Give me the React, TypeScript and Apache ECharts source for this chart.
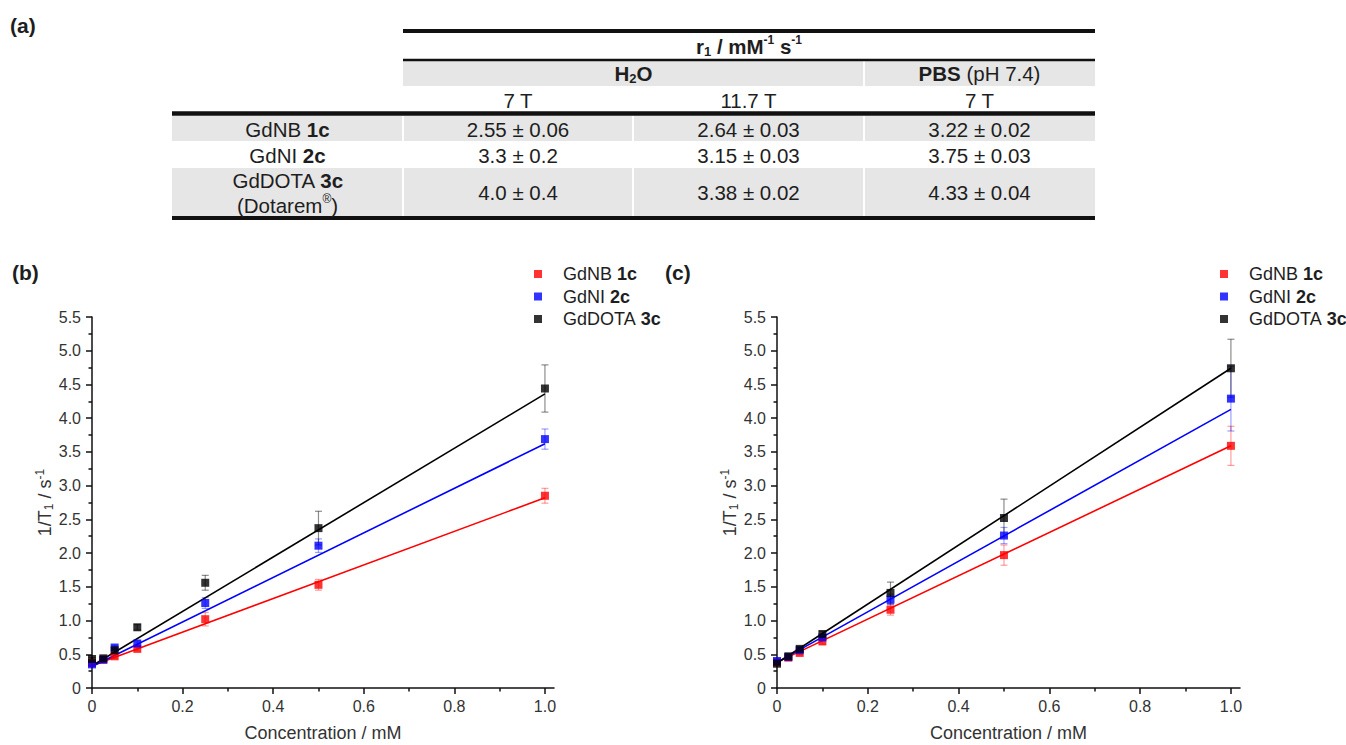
import React, { useEffect, useRef } from "react";
import * as echarts from "echarts";

// ---------- data ----------
const concentrations = [0, 0.025, 0.05, 0.1, 0.25, 0.5, 1.0];
const compoundNames = ["GdNB", "GdNI", "GdDOTA"];
const compoundCodes = ["1c", "2c", "3c"];
const seriesColors = ["#ff0000", "#0000ff", "#000000"];
const errorColors = ["rgba(255,0,0,0.38)", "rgba(0,0,255,0.38)", "rgba(0,0,0,0.45)"];

// panel (b)
const bRed = [0.37, 0.42, 0.47, 0.58, 1.02, 1.53, 2.85];
const bBlue = [0.35, 0.42, 0.6, 0.66, 1.26, 2.11, 3.69];
const bBlack = [0.43, 0.44, 0.56, 0.9, 1.56, 2.37, 4.44];
const bRedErr = [0.02, 0.02, 0.03, 0.03, 0.1, 0.08, 0.11];
const bBlueErr = [0.02, 0.02, 0.03, 0.04, 0.08, 0.1, 0.15];
const bBlackErr = [0.02, 0.02, 0.03, 0.04, 0.11, 0.25, 0.35];
const bFitAtZero = [0.33, 0.32, 0.33];
const bFitAtOne = [2.82, 3.62, 4.36];

// panel (c)
const cRed = [0.38, 0.45, 0.52, 0.69, 1.16, 1.97, 3.59];
const cBlue = [0.4, 0.46, 0.56, 0.75, 1.31, 2.26, 4.29];
const cBlack = [0.36, 0.47, 0.58, 0.8, 1.41, 2.52, 4.74];
const cRedErr = [0.02, 0.02, 0.03, 0.04, 0.08, 0.15, 0.29];
const cBlueErr = [0.02, 0.02, 0.03, 0.04, 0.08, 0.12, 0.48];
const cBlackErr = [0.02, 0.02, 0.03, 0.04, 0.16, 0.28, 0.43];
const cFitAtZero = [0.38, 0.38, 0.37];
const cFitAtOne = [3.59, 4.13, 4.74];

// axis ticks
const xMajorTicks = [0, 0.2, 0.4, 0.6, 0.8, 1.0];
const xMinorTicks = [0.1, 0.3, 0.5, 0.7, 0.9];

// table (a)
const r1Water7T = ["2.55 ± 0.06", "3.3 ± 0.2", "4.0 ± 0.4"];
const r1Water117T = ["2.64 ± 0.03", "3.15 ± 0.03", "3.38 ± 0.02"];
const r1PBS7T = ["3.22 ± 0.02", "3.75 ± 0.03", "4.33 ± 0.04"];
const fieldLabels = ["7 T", "11.7 T", "7 T"];

// ---------- styling ----------
const FONT = 'Arial, "Liberation Sans", Helvetica, sans-serif';
const AXIS = "#111";
const LABEL = "#333";
const TEXT = "#1e1e1e";

const seriesNames = compoundNames.map((n, i) => `${n} ${compoundCodes[i]}`);

function makeAxes(gridIndex: number) {
  const lineStyle = { color: AXIS, width: 1.5 };
  const labelFmt = (v: number) => (v === 0 ? "0" : v.toFixed(1));
  const xMain = {
    gridIndex,
    type: "value",
    position: "bottom",
    min: 0,
    max: 1.02,
    interval: 0.2,
    axisLine: { show: true, onZero: false, lineStyle },
    axisTick: { show: true, length: 6, customValues: xMajorTicks, lineStyle },
    axisLabel: {
      customValues: xMajorTicks,
      margin: 10,
      color: LABEL,
      fontSize: 16,
      fontFamily: FONT,
      formatter: labelFmt,
    },
    splitLine: { show: false },
    name: "Concentration / mM",
    nameLocation: "middle",
    nameGap: 36,
    nameMoveOverlap: false,
    nameTextStyle: { fontSize: 18, fontFamily: FONT, color: LABEL },
  };
  const xMinor = {
    gridIndex,
    type: "value",
    position: "bottom",
    min: 0,
    max: 1.02,
    interval: 0.1,
    axisLine: { show: false },
    axisTick: { show: true, length: 3.5, customValues: xMinorTicks, lineStyle },
    axisLabel: { show: false },
    splitLine: { show: false },
  };
  const y = {
    gridIndex,
    type: "value",
    min: 0,
    max: 5.5,
    interval: 0.5,
    axisLine: { show: true, onZero: false, lineStyle },
    axisTick: { show: true, length: 6, lineStyle },
    minorTick: { show: true, splitNumber: 2, length: 3.5, lineStyle },
    minorSplitLine: { show: false },
    splitLine: { show: false },
    axisLabel: {
      margin: 11,
      color: LABEL,
      fontSize: 16,
      fontFamily: FONT,
      formatter: labelFmt,
    },
    name: "{t|1/T}{sub|1}{t| / s}{sup|-1}",
    nameLocation: "middle",
    nameGap: 37,
    nameMoveOverlap: false,
    nameTextStyle: {
      rich: {
        t: { fontSize: 18, fontFamily: FONT, color: LABEL, lineHeight: 21 },
        sub: { fontSize: 12, fontFamily: FONT, color: LABEL, lineHeight: 12, verticalAlign: "bottom" },
        sup: { fontSize: 12, fontFamily: FONT, color: LABEL, lineHeight: 14, verticalAlign: "top" },
      },
    },
  };
  return { xMain, xMinor, y };
}

function makeSeries(
  xAxisIndex: number,
  yAxisIndex: number,
  values: number[][],
  errs: number[][],
  fit0: number[],
  fit1: number[]
) {
  const out: any[] = [];
  values.forEach((vals, k) => {
    out.push({
      type: "line",
      name: `${seriesNames[k]} fit ${xAxisIndex}`,
      xAxisIndex,
      yAxisIndex,
      data: [
        [0, fit0[k]],
        [1, fit1[k]],
      ],
      showSymbol: false,
      symbol: "none",
      clip: false,
      silent: true,
      lineStyle: { color: seriesColors[k], width: 1.6 },
      z: 2,
    });
    out.push({
      type: "custom",
      name: `${seriesNames[k]} err ${xAxisIndex}`,
      xAxisIndex,
      yAxisIndex,
      silent: true,
      clip: false,
      encode: { x: 0, y: 1 },
      data: concentrations.map((c, i) => [c, vals[i], errs[k][i]]),
      renderItem: (params: any, api: any) => {
        const x = api.value(0);
        const yv = api.value(1);
        const e = api.value(2);
        const top = api.coord([x, yv + e]);
        const bot = api.coord([x, yv - e]);
        const hw = 3.5;
        const st = { stroke: errorColors[k], lineWidth: 1.2 };
        return {
          type: "group",
          children: [
            { type: "line", shape: { x1: top[0], y1: top[1], x2: bot[0], y2: bot[1] }, style: st },
            { type: "line", shape: { x1: top[0] - hw, y1: top[1], x2: top[0] + hw, y2: top[1] }, style: st },
            { type: "line", shape: { x1: bot[0] - hw, y1: bot[1], x2: bot[0] + hw, y2: bot[1] }, style: st },
          ],
        };
      },
      z: 1,
    });
    out.push({
      type: "scatter",
      name: seriesNames[k],
      xAxisIndex,
      yAxisIndex,
      symbol: "rect",
      symbolSize: 8,
      clip: false,
      data: concentrations.map((c, i) => [c, vals[i]]),
      itemStyle: { color: seriesColors[k] },
      z: 3,
    });
  });
  return out;
}

function makeLegend(left: number) {
  return {
    left,
    top: 265,
    padding: 0,
    orient: "vertical",
    itemWidth: 8,
    itemHeight: 8,
    itemGap: 4.5,
    icon: "rect",
    selectedMode: false,
    data: seriesNames,
    formatter: (name: string) => {
      const i = seriesNames.indexOf(name);
      return `{n|${compoundNames[i]} }{b|${compoundCodes[i]}}`;
    },
    textStyle: {
      rich: {
        n: { fontSize: 18, fontFamily: FONT, color: TEXT, padding: [0, 0, 0, 16], lineHeight: 20 },
        b: { fontSize: 18, fontFamily: FONT, color: TEXT, fontWeight: "bold", lineHeight: 20 },
      },
    },
  };
}

// ---------- table graphic ----------
const T_LEFT = 172;
const C1 = 403;
const C2 = 633;
const C3 = 864;
const T_RIGHT = 1095;
const GRAY = "#e6e6e6";

const richTable = {
  n: { fontSize: 20.5, fontFamily: FONT, fill: TEXT, lineHeight: 24 },
  b: { fontSize: 20.5, fontFamily: FONT, fill: TEXT, fontWeight: "bold", lineHeight: 24 },
  bsub: { fontSize: 13, fontFamily: FONT, fill: TEXT, fontWeight: "bold", lineHeight: 14, verticalAlign: "bottom" },
  bsup: { fontSize: 12, fontFamily: FONT, fill: TEXT, fontWeight: "bold", lineHeight: 16, verticalAlign: "top" },
  sup: { fontSize: 12, fontFamily: FONT, fill: TEXT, lineHeight: 16, verticalAlign: "top" },
};

function txt(x: number, y: number, text: string, opts: any = {}) {
  return {
    type: "text",
    x,
    y,
    style: {
      text,
      rich: richTable,
      fontSize: 20,
      fontFamily: FONT,
      fill: TEXT,
      align: "center",
      verticalAlign: "middle",
      textAlign: "center",
      textVerticalAlign: "middle",
      ...opts,
    },
    z: 10,
  };
}

function hline(x1: number, x2: number, y: number, w: number, color = "#111") {
  return { type: "line", shape: { x1, y1: y, x2, y2: y }, style: { stroke: color, lineWidth: w }, z: 9 };
}
function vline(x: number, y1: number, y2: number) {
  return { type: "line", shape: { x1: x, y1, x2: x, y2 }, style: { stroke: "#fff", lineWidth: 2 }, z: 8 };
}
function rect(x: number, y: number, w: number, h: number) {
  return { type: "rect", shape: { x, y, width: w, height: h }, style: { fill: GRAY }, z: 7 };
}

function buildTable() {
  const els: any[] = [];
  const colX = [(C1 + C2) / 2, (C2 + C3) / 2, (C3 + T_RIGHT) / 2];
  const labelX = (T_LEFT + C1) / 2;
  // backgrounds
  els.push(rect(C1, 61, T_RIGHT - C1, 25));
  els.push(vline(C3, 61, 86));
  els.push(rect(T_LEFT, 116, T_RIGHT - T_LEFT, 25));
  els.push(rect(T_LEFT, 168, T_RIGHT - T_LEFT, 48));
  [C1, C2, C3].forEach((x) => {
    els.push(vline(x, 116, 141));
    els.push(vline(x, 141, 168));
    els.push(vline(x, 168, 216));
  });
  // rules
  els.push(hline(C1, T_RIGHT, 31, 4));
  els.push(hline(C1, T_RIGHT, 60, 2.5));
  els.push(hline(T_LEFT, T_RIGHT, 113.5, 4.5));
  els.push(hline(T_LEFT, T_RIGHT, 218, 4));
  // headers
  els.push(txt(749, 46, "{b|r}{bsub|1}{b| / mM}{bsup|-1}{b| s}{bsup|-1}"));
  els.push(txt((C1 + C3) / 2, 73, "{b|H}{bsub|2}{b|O}"));
  els.push(txt(colX[2], 73, "{b|PBS}{n| (pH 7.4)}"));
  fieldLabels.forEach((f, i) => els.push(txt(colX[i], 100, `{n|${f}}`)));
  // rows
  const rowY = [129, 155, 192];
  compoundNames.forEach((n, i) => {
    if (i < 2) {
      els.push(txt(labelX, rowY[i], `{n|${n} }{b|${compoundCodes[i]}}`));
    } else {
      els.push(txt(labelX, 180, `{n|${n} }{b|${compoundCodes[i]}}`));
      els.push(txt(labelX, 205, "{n|(Dotarem}{sup|®}{n|)}"));
    }
    els.push(txt(colX[0], rowY[i], `{n|${r1Water7T[i]}}`));
    els.push(txt(colX[1], rowY[i], `{n|${r1Water117T[i]}}`));
    els.push(txt(colX[2], rowY[i], `{n|${r1PBS7T[i]}}`));
  });
  // panel labels
  const panelLabel = (x: number, y: number, t: string) => ({
    type: "text",
    x,
    y,
    style: {
      text: t,
      fontSize: 21,
      fontWeight: "bold",
      fontFamily: FONT,
      fill: TEXT,
      align: "left",
      verticalAlign: "middle",
      textAlign: "left",
      textVerticalAlign: "middle",
    },
    z: 10,
  });
  els.push(panelLabel(10, 25, "(a)"));
  els.push(panelLabel(12, 272, "(b)"));
  els.push(panelLabel(665, 272, "(c)"));
  return els;
}

export default function App() {
  const ref = useRef<HTMLDivElement>(null);
  useEffect(() => {
    if (!ref.current) return;
    const chart = echarts.init(ref.current, undefined, { renderer: "svg" });
    const a0 = makeAxes(0);
    const a1 = makeAxes(1);
    const option: any = {
      animation: false,
      backgroundColor: "#ffffff",
      grid: [
        { left: 92, top: 317, width: 462, height: 371, outerBoundsMode: "none", containLabel: false },
        { left: 777, top: 317, width: 463, height: 371, outerBoundsMode: "none", containLabel: false },
      ],
      xAxis: [a0.xMain, a0.xMinor, a1.xMain, a1.xMinor],
      yAxis: [a0.y, a1.y],
      legend: [makeLegend(534), makeLegend(1220)],
      series: [
        ...makeSeries(0, 0, [bRed, bBlue, bBlack], [bRedErr, bBlueErr, bBlackErr], bFitAtZero, bFitAtOne),
        ...makeSeries(2, 1, [cRed, cBlue, cBlack], [cRedErr, cBlueErr, cBlackErr], cFitAtZero, cFitAtOne),
      ],
      graphic: buildTable(),
    };
    chart.setOption(option);
    return () => chart.dispose();
  }, []);
  return (
    <div
      ref={ref}
      style={{ position: "absolute", left: 0, top: 0, width: 1346, height: 745, background: "#fff" }}
    />
  );
}
